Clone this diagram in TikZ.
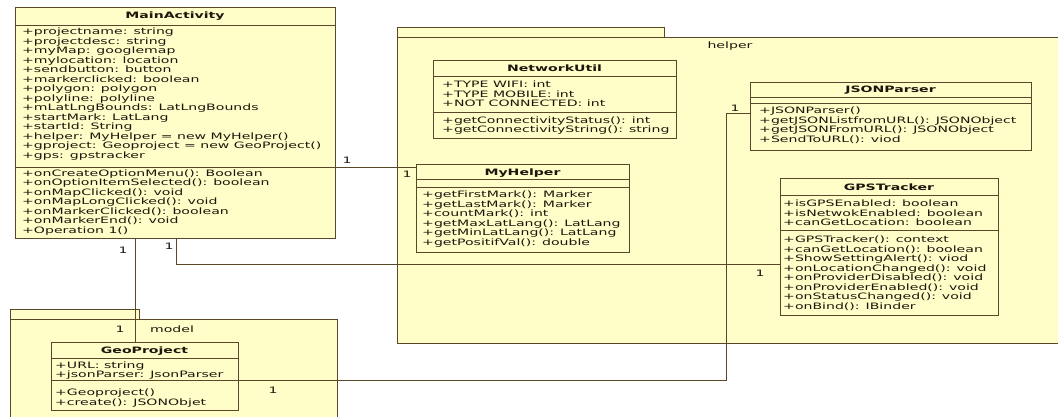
\documentclass[tikz,border=0pt]{standalone}
\usepackage{fontspec}
\newfontfamily\umlf{DejaVu Sans}[FakeStretch=1.6]
\definecolor{umlfill}{RGB}{255,253,200}
\definecolor{umlline}{RGB}{90,70,40}
\definecolor{umltext}{RGB}{30,22,12}
\tikzset{
 cls/.style={draw=umlline, fill=umlfill, line width=1.1pt, inner sep=0pt, anchor=north west},
 pkg/.style={draw=umlline, fill=umlfill, line width=1.1pt, inner sep=0pt, anchor=north west},
 sepline/.style={draw=umlline, line width=1pt},
 txt/.style={inner sep=0pt, anchor=base west, text=umltext, font=\umlf\fontsize{8.8}{9.5}\selectfont},
 ttl/.style={inner sep=0pt, anchor=base, text=umltext, font=\umlf\bfseries\fontsize{8.8}{9.5}\selectfont},
 lbl/.style={inner sep=0pt, text=umltext, font=\umlf\fontsize{8.8}{9.5}\selectfont},
 conn/.style={draw=umlline, line width=1pt},
}
\newcommand\cltext[5]{%
  \foreach \t [count=\i] in {#5} {\node[txt] (#1\i) at (#2, {#3+(\i-1)*#4}) {\t};}}
\begin{document}
\begin{tikzpicture}[x=1pt,y=-1pt]
\useasboundingbox (0,0) rectangle (1058,416);
\fill[white] (0,0) rectangle (1058,416);
\begin{scope}
\clip (0,0) rectangle (1058,416);
% helper package
\node[pkg, minimum width=267pt, minimum height=10pt] (helpertab) at (397,27) {};
\node[pkg, minimum width=720pt, minimum height=306pt] (helperpkg) at (397,37) {};
\node[lbl] (helperlbl) at (730,46) {helper};
% model package
\node[pkg, minimum width=129pt, minimum height=10pt] (modeltab) at (10,309) {};
\node[pkg, minimum width=327pt, minimum height=140pt] (modelpkg) at (10,319) {};
\node[lbl] (modellbl) at (172,329) {model};
\end{scope}

% class boxes
\node[cls, minimum width=320pt, minimum height=231pt] (main) at (15,7) {};
\node[cls, minimum width=243pt, minimum height=78pt] (net) at (433,60) {};
\node[cls, minimum width=281pt, minimum height=68pt] (json) at (750,82) {};
\node[cls, minimum width=213pt, minimum height=88pt] (myh) at (416,164) {};
\node[cls, minimum width=218pt, minimum height=137pt] (gps) at (780,178) {};
\node[cls, minimum width=187pt, minimum height=68pt] (geo) at (51,342) {};

% connectors
\coordinate (bend) at (726,113);
\draw[conn] (main.east |- 0,167) -- (myh.west |- 0,167);
\draw[conn] (main.south -| 135,0) -- (geo.north -| 135,0);
\draw[conn] (main.south -| 176,0) |- (gps.west |- 0,264);
\draw[conn] (geo.east |- 0,380) -| (bend) -- (json.west |- bend);

% multiplicities
\node[lbl] (m1) at (347,160) {1};
\node[lbl] (m2) at (407,174) {1};
\node[lbl] (m3) at (123,250) {1};
\node[lbl] (m4) at (120,329) {1};
\node[lbl] (m5) at (169,246) {1};
\node[lbl] (m6) at (760,273) {1};
\node[lbl] (m7) at (273,390) {1};
\node[lbl] (m8) at (735,108) {1};

% MainActivity
\draw[sepline] (15,25) -- (335,25);
\draw[sepline] (15,167) -- (335,167);
\node[ttl] (maint) at (175,18) {MainActivity};
\cltext{maina}{22}{34.5}{9.5}{+projectname: string,+projectdesc: string,+myMap: googlemap,+mylocation: location,+sendbutton: button,+markerclicked: boolean,+polygon: polygon,+polyline: polyline,+mLatLngBounds: LatLngBounds,+startMark: LatLang,+startId: String,+helper: MyHelper = new MyHelper(),+gproject: Geoproject = new GeoProject(),+gps: gpstracker}
\cltext{mainm}{22}{176}{9.5}{+onCreateOptionMenu(): Boolean,+onOptionItemSelected(): boolean,+onMapClicked(): void,+onMapLongClicked(): void,+onMarkerClicked(): boolean,+onMarkerEnd(): void,+Operation 1()}

% NetworkUtil
\draw[sepline] (433,76) -- (676,76);
\draw[sepline] (433,112) -- (676,112);
\node[ttl] (nett) at (554.5,71.5) {NetworkUtil};
\cltext{neta}{442}{87.5}{9.5}{+TYPE WIFI: int,+TYPE MOBILE: int,+NOT CONNECTED: int}
\cltext{netm}{442}{123}{9.5}{+getConnectivityStatus(): int,+getConnectivityString(): string}

% JSONParser
\draw[sepline] (750,97) -- (1031,97);
\draw[sepline] (750,103) -- (1031,103);
\node[ttl] (jsont) at (890.5,92.5) {JSONParser};
\cltext{jsonm}{759}{113.5}{9.5}{+JSONParser(),+getJSONListfromURL(): JSONObject,+getJSONFromURL(): JSONObject,+SendToURL(): viod}

% MyHelper
\draw[sepline] (416,179) -- (629,179);
\draw[sepline] (416,187) -- (629,187);
\node[ttl] (myht) at (522.5,175.5) {MyHelper};
\cltext{myhm}{422}{197.5}{9.5}{+getFirstMark(): Marker,+getLastMark(): Marker,+countMark(): int,+getMaxLatLang(): LatLang,+getMinLatLang(): LatLang,+getPositifVal(): double}

% GPSTracker
\draw[sepline] (780,195) -- (998,195);
\draw[sepline] (780,230) -- (998,230);
\node[ttl] (gpst) at (889,190.5) {GPSTracker};
\cltext{gpsa}{783}{206.5}{9.5}{+isGPSEnabled: boolean,+isNetwokEnabled: boolean,+canGetLocation: boolean}
\cltext{gpsm}{783}{242.5}{9.5}{+GPSTracker(): context,+canGetLocation(): boolean,+ShowSettingAlert(): viod,+onLocationChanged(): void,+onProviderDisabled(): void,+onProviderEnabled(): void,+onStatusChanged(): void,+onBind(): IBinder}

% GeoProject
\draw[sepline] (51,358) -- (238,358);
\draw[sepline] (51,380) -- (238,380);
\node[ttl] (geot) at (144.5,353.5) {GeoProject};
\cltext{geoa}{55}{368}{9.5}{+URL: string,+jsonParser: JsonParser}
\cltext{geom}{55}{395.5}{9.5}{+Geoproject(),+create(): JSONObjet}
\end{tikzpicture}
\end{document}
